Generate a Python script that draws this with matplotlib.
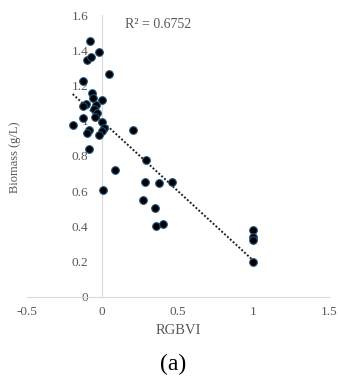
import numpy as np
import matplotlib
matplotlib.use("Agg")
from matplotlib import pyplot as plt

# values
rgbvi = [-0.08, -0.02, -0.10, -0.077, 0.044, -0.13, -0.07, -0.064, -0.004,
         -0.108, -0.126, -0.044, -0.053, -0.037, -0.048, -0.13, 0.0, -0.196,
         0.203, 0.013, 0.0, -0.086, -0.103, -0.024, -0.086, 0.287, 0.086,
         0.003, 0.283, 0.376, 0.46, 0.272, 0.347, 0.356, 0.404,
         1.0, 1.0, 1.0, 0.996]
biomass = [1.45, 1.39, 1.345, 1.36, 1.267, 1.224, 1.159, 1.131, 1.12,
           1.093, 1.083, 1.088, 1.068, 1.042, 1.019, 1.014, 0.994, 0.977,
           0.949, 0.957, 0.941, 0.947, 0.928, 0.92, 0.84, 0.775, 0.72,
           0.606, 0.653, 0.644, 0.653, 0.549, 0.502, 0.402, 0.415,
           0.379, 0.341, 0.322, 0.195]
x_ticks = [-0.5, 0, 0.5, 1, 1.5]
y_ticks = [0, 0.2, 0.4, 0.6, 0.8, 1, 1.2, 1.4, 1.6]
r2_text = "R² = 0.6752"

plt.rcParams['font.family'] = ['Liberation Serif', 'DejaVu Serif']
gray = '#595959'

fig = plt.figure(figsize=(3.38, 3.80), dpi=100)
ax = fig.add_axes([0.0793, 0.2192, 0.8935, 0.7413])

x = np.array(rgbvi)
y = np.array(biomass)

# linear trendline over the data range
slope, intercept = np.polyfit(x, y, 1)
xs = np.array([x.min(), x.max()])
ax.plot(xs, slope * xs + intercept, color='#222222', lw=1.4,
        linestyle=(0, (1, 1)), zorder=2)

ax.scatter(x, y, s=30, color='black', edgecolors='#1f4e79', linewidths=0.8, zorder=3)

ax.set_xlim(-0.5, 1.5)
ax.set_ylim(0, 1.6)
ax.set_xticks(x_ticks)
ax.set_xticklabels(['-0.5', '0', '0.5', '1', '1.5'])
ax.set_yticks(y_ticks)
ax.set_yticklabels(['0', '0.2', '0.4', '0.6', '0.8', '1', '1.2', '1.4', '1.6'])

for s in ['top', 'right']:
    ax.spines[s].set_visible(False)
ax.spines['left'].set_position(('data', 0))
ax.spines['bottom'].set_position(('data', 0))
ax.spines['left'].set_color('#d9d9d9')
ax.spines['bottom'].set_color('#d9d9d9')
ax.tick_params(length=0, labelsize=9.5, labelcolor=gray)
ax.tick_params(axis='y', pad=10)
ax.tick_params(axis='x', pad=7)

fig.text(125 / 338, 1 - 25 / 380, r2_text, fontsize=10, color=gray, va='center')
fig.text(15 / 338, 1 - 157 / 380, 'Biomass (g/L)', fontsize=9, color=gray,
         rotation=90, ha='center', va='center')
fig.text(178 / 338, 1 - 331 / 380, 'RGBVI', fontsize=10.5, color=gray,
         ha='center', va='center')
fig.text(173 / 338, 1 - 364 / 380, '(a)', fontsize=17, color='black',
         ha='center', va='center')

fig.savefig('out.png', dpi=100)
